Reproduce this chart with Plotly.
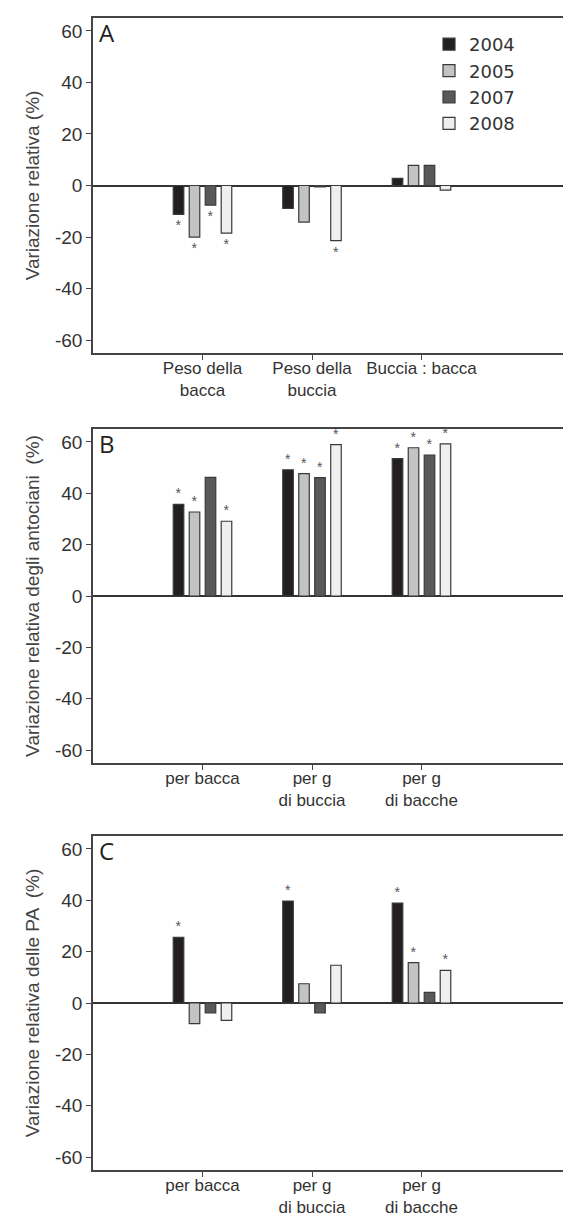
import plotly.graph_objects as go

years = ["2004", "2005", "2007", "2008"]
colors = ["#231f20", "#c2c3c5", "#58595b", "#efefef"]

cats_A = ["Peso della<br>bacca", "Peso della<br>buccia", "Buccia : bacca"]
vals_A = {
    "2004": [-11.2, -8.9, 2.8],
    "2005": [-20.0, -14.2, 7.8],
    "2007": [-7.6, -0.5, 7.8],
    "2008": [-18.5, -21.4, -1.8],
}
sig_A = {"2004": [1, 0, 0], "2005": [1, 0, 0], "2007": [1, 0, 0], "2008": [1, 1, 0]}

cats_B = ["per bacca", "per g<br>di buccia", "per g<br>di bacche"]
vals_B = {
    "2004": [35.7, 49.1, 53.5],
    "2005": [32.7, 47.6, 57.7],
    "2007": [46.2, 46.1, 54.8],
    "2008": [29.1, 58.9, 59.2],
}
sig_B = {"2004": [1, 1, 1], "2005": [1, 1, 1], "2007": [0, 1, 1], "2008": [1, 1, 1]}

cats_C = ["per bacca", "per g<br>di buccia", "per g<br>di bacche"]
vals_C = {
    "2004": [25.6, 39.7, 38.9],
    "2005": [-8.0, 7.5, 15.7],
    "2007": [-3.9, -3.9, 4.1],
    "2008": [-6.8, 14.7, 12.7],
}
sig_C = {"2004": [1, 1, 1], "2005": [0, 0, 1], "2007": [0, 0, 0], "2008": [0, 0, 1]}

y_ticks = [-60, -40, -20, 0, 20, 40, 60]
panel_letters = ["A", "B", "C"]
y_titles = [
    "Variazione relativa (%)",
    "Variazione relativa degli antociani \u00a0(%)",
    "Variazione relativa delle PA \u00a0(%)",
]

FONT = "Liberation Sans, Arial, Helvetica, sans-serif"
W, H = 571, 1222

fig = go.Figure()
panels = [(cats_A, vals_A, sig_A), (cats_B, vals_B, sig_B), (cats_C, vals_C, sig_C)]
for p, (cats, vals, sigs) in enumerate(panels):
    xa = "x" if p == 0 else f"x{p+1}"
    ya = "y" if p == 0 else f"y{p+1}"
    for yr, col in zip(years, colors):
        fig.add_trace(go.Bar(
            x=cats, y=vals[yr], name=yr,
            marker=dict(color=col, line=dict(color="#3a3a3a", width=1.2)),
            text=["*" if s else "" for s in sigs[yr]],
            textposition="outside", cliponaxis=False, constraintext="none",
            textfont=dict(size=14, color="#555555", family=FONT),
            showlegend=(p == 0), xaxis=xa, yaxis=ya,
        ))

# panel domains (pixel rows converted to paper fractions)
rows = [(10, 345), (421, 755), (828, 1162)]
x_dom = [85 / W, 569 / W]

layout = dict(
    width=W, height=H,
    margin=dict(l=0, r=0, t=0, b=0),
    paper_bgcolor="white", plot_bgcolor="white",
    barmode="group", bargap=0.416, bargroupgap=0.34,
    font=dict(family=FONT, color="#333333", size=17),
    showlegend=True,
    legend=dict(x=421 / W, y=1 - 18 / H, xanchor="left", yanchor="top",
                bgcolor="rgba(0,0,0,0)",
                font=dict(size=18, family="DejaVu Sans, sans-serif", color="#333333"),
                itemwidth=30, tracegroupgap=0),
    annotations=[],
    template="none",
)

for p, (top, bot) in enumerate(rows):
    sfx = "" if p == 0 else str(p + 1)
    dom = [1 - bot / H, 1 - top / H]
    layout["xaxis" + sfx] = dict(
        domain=x_dom, anchor="y" + sfx, type="category", range=[-1.0, 3.42],
        showline=True, mirror=True, linecolor="#444444", linewidth=1.5,
        ticks="outside", ticklen=5, tickwidth=1.2, tickcolor="#444444",
        ticklabelstandoff=-6,
        tickfont=dict(size=17, color="#333333"), showgrid=False, zeroline=False,
        automargin=False, fixedrange=True,
    )
    layout["yaxis" + sfx] = dict(
        domain=dom, anchor="x" + sfx, range=[-65, 65],
        tickvals=y_ticks, ticktext=[str(v) for v in y_ticks],
        showline=True, mirror=True, linecolor="#444444", linewidth=1.5,
        ticks="outside", ticklen=5, tickwidth=1.2, tickcolor="#444444",
        tickfont=dict(size=19, color="#333333"), showgrid=False,
        zeroline=True, zerolinecolor="#333333", zerolinewidth=1.5,
        automargin=False, fixedrange=True,
        title=dict(text=y_titles[p], font=dict(size=19, color="#444444"), standoff=10),
    )
    layout["annotations"].append(dict(
        text=panel_letters[p], xref=f"x{sfx} domain", yref=f"y{sfx} domain",
        x=0.0, y=1.0, xanchor="left", yanchor="top", showarrow=False,
        xshift=4, yshift=4,
        font=dict(size=24, family="Open Sans, DejaVu Sans, sans-serif", color="#231f20"),
    ))

fig.update_layout(**layout)
fig.write_html("out.html")
